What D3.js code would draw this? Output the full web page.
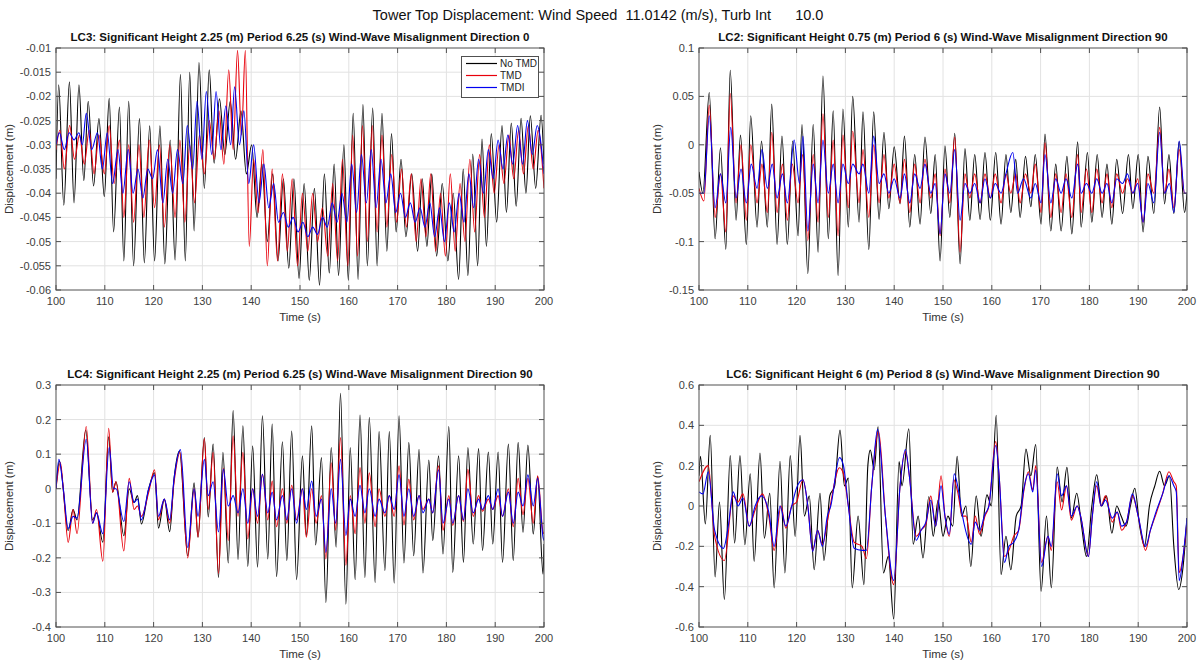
<!DOCTYPE html>
<html lang="en">
<head>
  <meta charset="UTF-8">
  <title>Tower Top Displacement</title>
  <script src="https://cdn.jsdelivr.net/npm/d3@7"></script>
  <style>
    body { margin: 0; background: #fff; }
    svg { font-family: "Liberation Sans", Arial, sans-serif; }
    .grid line { stroke: #e2e2e2; stroke-width: 1; }
    .box { fill: none; stroke: #505050; stroke-width: 1; }
    .tick-label { fill: #404040; font-size: 11px; }
    .trace { fill: none; stroke-width: 1.1; }
  </style>
</head>
<body>
<svg width="1198" height="664"></svg>
<script>
const xTicks = [100, 110, 120, 130, 140, 150, 160, 170, 180, 190, 200];
const seriesNames = ['No TMD', 'TMD', 'TMDI'];
const seriesColors = ['#000000', '#e8000b', '#0000f0'];

const mainTitle = 'Tower Top Displacement: Wind Speed  11.0142 (m/s), Turb Int      10.0';

// LC3
const lc3Title = 'LC3: Significant Height 2.25 (m) Period 6.25 (s) Wind-Wave Misalignment Direction 0';
const lc3Ticks = [-0.06, -0.055, -0.05, -0.045, -0.04, -0.035, -0.03, -0.025, -0.02, -0.015, -0.01];
const lc3NoTmd = [[100,-0.037],[100.55,-0.0176],[101.6,-0.0425],[102.75,-0.017],[103.7,-0.042],[104.7,-0.0176],[105.7,-0.0374],[106.6,-0.021],[107.7,-0.0385],[108.8,-0.0246],[109.9,-0.0407],[110.9,-0.0204],[111.8,-0.048],[113.0,-0.0222],[113.9,-0.054],[114.9,-0.021],[115.9,-0.055],[117.1,-0.0246],[118.1,-0.0544],[119.2,-0.0261],[120.2,-0.054],[121.3,-0.0261],[122.3,-0.0546],[123.4,-0.029],[124.4,-0.0538],[125.5,-0.0155],[126.5,-0.054],[127.4,-0.015],[128.3,-0.0478],[129.3,-0.013],[130.4,-0.039],[131.4,-0.0145],[132.4,-0.0338],[133.5,-0.0205],[134.6,-0.032],[135.7,-0.021],[136.8,-0.033],[137.9,-0.023],[139.0,-0.036],[140.1,-0.03],[141.2,-0.045],[142.2,-0.034],[143.3,-0.05],[144.4,-0.036],[145.5,-0.054],[146.6,-0.037],[147.7,-0.0555],[148.75,-0.037],[149.8,-0.0576],[150.85,-0.038],[151.9,-0.058],[152.95,-0.039],[154.0,-0.059],[155.0,-0.036],[156.0,-0.0565],[157.0,-0.034],[157.9,-0.057],[159.0,-0.03],[159.9,-0.058],[160.9,-0.0235],[161.9,-0.0578],[162.9,-0.0217],[163.8,-0.055],[164.9,-0.0224],[165.8,-0.055],[166.8,-0.0235],[167.8,-0.052],[168.75,-0.0277],[169.7,-0.048],[170.7,-0.033],[171.7,-0.049],[172.9,-0.036],[174.1,-0.052],[175.05,-0.037],[176.0,-0.051],[177.0,-0.036],[178.0,-0.053],[179.15,-0.038],[180.3,-0.054],[181.4,-0.04],[182.5,-0.0578],[183.45,-0.035],[184.4,-0.057],[185.4,-0.0319],[186.4,-0.055],[187.3,-0.0288],[188.2,-0.051],[189.2,-0.0277],[190.3,-0.046],[191.4,-0.026],[192.3,-0.044],[193.3,-0.0255],[194.3,-0.0427],[195.3,-0.0245],[196.3,-0.04],[197.2,-0.024],[198.3,-0.039],[199.4,-0.0239],[200,-0.034]];
const lc3Tmd = [[100,-0.031],[100.8,-0.027],[101.7,-0.035],[102.8,-0.026],[103.8,-0.033],[104.8,-0.028],[105.8,-0.034],[106.8,-0.027],[107.8,-0.036],[108.8,-0.028],[109.9,-0.036],[110.9,-0.026],[111.9,-0.038],[113.0,-0.029],[113.9,-0.045],[114.9,-0.03],[115.9,-0.046],[117.0,-0.03],[118.0,-0.045],[119.1,-0.029],[120.2,-0.043],[121.2,-0.03],[122.2,-0.047],[123.3,-0.03],[124.4,-0.045],[125.4,-0.029],[126.4,-0.046],[127.4,-0.03],[128.4,-0.042],[129.4,-0.028],[130.4,-0.036],[131.4,-0.025],[132.4,-0.033],[133.4,-0.023],[134.4,-0.034],[135.4,-0.0145],[136.3,-0.031],[137.2,-0.0105],[138.0,-0.028],[138.8,-0.0105],[139.6,-0.051],[140.5,-0.033],[141.4,-0.044],[142.4,-0.031],[143.3,-0.055],[144.3,-0.035],[145.4,-0.054],[146.4,-0.036],[147.4,-0.052],[148.4,-0.037],[149.5,-0.055],[150.5,-0.04],[151.6,-0.052],[152.6,-0.04],[153.6,-0.05],[154.6,-0.043],[155.7,-0.053],[156.7,-0.038],[157.7,-0.054],[158.7,-0.033],[159.8,-0.055],[160.8,-0.028],[161.8,-0.053],[162.8,-0.026],[163.8,-0.05],[164.8,-0.026],[165.8,-0.048],[166.8,-0.028],[167.8,-0.047],[168.8,-0.032],[169.8,-0.046],[170.8,-0.035],[171.8,-0.047],[172.8,-0.036],[173.8,-0.05],[174.8,-0.037],[175.8,-0.049],[176.8,-0.036],[177.8,-0.052],[178.8,-0.04],[179.8,-0.053],[180.8,-0.036],[181.8,-0.052],[182.8,-0.038],[183.8,-0.05],[184.8,-0.033],[185.8,-0.048],[186.8,-0.032],[187.8,-0.045],[188.8,-0.03],[189.8,-0.04],[190.8,-0.03],[191.8,-0.038],[192.8,-0.028],[193.8,-0.037],[194.8,-0.027],[195.8,-0.036],[196.8,-0.026],[197.8,-0.035],[198.8,-0.027],[200,-0.039]];
const lc3Tmdi = [[100,-0.03],[100.7,-0.0275],[101.7,-0.031],[102.7,-0.0275],[103.7,-0.029],[104.7,-0.0275],[105.4,-0.03],[106.2,-0.0235],[107.3,-0.031],[108.5,-0.0275],[109.5,-0.035],[110.5,-0.0275],[111.6,-0.038],[112.7,-0.031],[113.7,-0.04],[114.8,-0.031],[115.8,-0.04],[116.8,-0.035],[117.8,-0.041],[118.8,-0.035],[119.8,-0.037],[120.8,-0.031],[121.9,-0.042],[122.9,-0.033],[123.9,-0.04],[124.9,-0.031],[126.0,-0.038],[126.9,-0.026],[128.0,-0.035],[128.9,-0.021],[129.9,-0.033],[130.8,-0.019],[131.9,-0.032],[132.8,-0.019],[133.8,-0.031],[134.8,-0.022],[135.8,-0.03],[136.6,-0.018],[137.6,-0.03],[138.5,-0.023],[139.5,-0.038],[140.5,-0.03],[141.6,-0.042],[142.6,-0.034],[143.6,-0.043],[144.6,-0.038],[145.6,-0.046],[146.6,-0.044],[147.6,-0.047],[148.6,-0.045],[149.6,-0.048],[150.6,-0.046],[151.6,-0.049],[152.6,-0.047],[153.6,-0.0485],[154.6,-0.045],[155.6,-0.047],[156.6,-0.042],[157.6,-0.046],[158.6,-0.04],[159.6,-0.046],[160.6,-0.034],[161.6,-0.044],[162.6,-0.032],[163.6,-0.042],[164.6,-0.031],[165.6,-0.043],[166.6,-0.033],[167.6,-0.042],[168.6,-0.036],[169.6,-0.044],[170.6,-0.04],[171.6,-0.045],[172.6,-0.042],[173.6,-0.046],[174.6,-0.043],[175.6,-0.047],[176.6,-0.042],[177.6,-0.049],[178.6,-0.043],[179.6,-0.05],[180.6,-0.042],[181.6,-0.048],[182.6,-0.04],[183.6,-0.046],[184.6,-0.036],[185.6,-0.043],[186.6,-0.033],[187.6,-0.04],[188.6,-0.031],[189.6,-0.037],[190.6,-0.029],[191.6,-0.035],[192.6,-0.028],[193.6,-0.034],[194.6,-0.026],[195.6,-0.034],[196.6,-0.025],[197.6,-0.032],[198.6,-0.026],[200,-0.036]];

// LC2
const lc2Title = 'LC2: Significant Height 0.75 (m) Period 6 (s) Wind-Wave Misalignment Direction 90';
const lc2Ticks = [-0.15, -0.1, -0.05, 0, 0.05, 0.1];
const lc2NoTmd = [[100,-0.028],[100.8,-0.05],[102.1,0.054],[103.3,-0.097],[104.4,-0.003],[105.5,-0.108],[106.4,0.077],[107.6,-0.078],[108.5,0.01],[109.7,-0.103],[110.6,0.03],[111.9,-0.085],[112.8,0.004],[114.0,-0.085],[114.9,0.042],[116.0,-0.103],[117.0,0.009],[118.1,-0.103],[119.2,0.004],[120.3,-0.094],[121.1,0.021],[122.3,-0.133],[123.4,0.021],[124.4,-0.111],[125.4,0.071],[126.5,-0.097],[127.5,0.035],[128.5,-0.135],[129.5,0.037],[130.6,-0.085],[131.5,0.05],[132.8,-0.08],[133.6,0.034],[134.8,-0.108],[135.8,0.034],[136.9,-0.077],[137.9,0.013],[138.9,-0.066],[140.0,-0.002],[141.2,-0.061],[142.1,0.009],[143.2,-0.085],[144.2,-0.01],[145.3,-0.082],[146.3,0.008],[147.5,-0.071],[148.4,-0.01],[149.4,-0.12],[150.4,-0.001],[151.4,-0.075],[152.4,0.012],[153.5,-0.123],[154.5,-0.004],[155.5,-0.078],[156.5,-0.01],[157.6,-0.077],[158.6,-0.008],[159.7,-0.078],[160.8,-0.008],[161.9,-0.082],[162.9,-0.01],[163.9,-0.07],[164.9,-0.015],[165.8,-0.075],[166.9,-0.012],[168.0,-0.064],[168.9,-0.01],[170.1,-0.082],[170.9,0.011],[172.1,-0.089],[173.1,-0.02],[174.2,-0.089],[175.4,-0.012],[176.4,-0.092],[177.6,0.003],[178.3,-0.085],[179.6,-0.008],[180.5,-0.08],[181.6,-0.01],[182.6,-0.075],[183.6,-0.02],[184.6,-0.082],[185.6,-0.015],[186.8,-0.071],[188.0,-0.01],[188.9,-0.066],[190.0,-0.01],[191.0,-0.09],[192.0,-0.012],[193.2,-0.071],[194.4,0.039],[195.4,-0.061],[196.3,-0.01],[197.3,-0.071],[198.4,0.003],[199.5,-0.07],[200,-0.05]];
const lc2Tmd = [[100,-0.045],[101.0,-0.058],[102.1,0.041],[103.3,-0.075],[104.4,-0.03],[105.5,-0.09],[106.4,0.053],[107.6,-0.06],[108.6,0.0],[109.7,-0.078],[110.6,0.0],[111.9,-0.06],[112.9,-0.02],[114.0,-0.07],[114.9,0.013],[116.0,-0.07],[117.1,-0.02],[118.1,-0.078],[119.1,-0.02],[120.3,-0.06],[121.2,-0.01],[122.3,-0.099],[123.4,-0.01],[124.4,-0.08],[125.4,0.032],[126.5,-0.075],[127.5,0.005],[128.5,-0.094],[129.5,0.01],[130.6,-0.065],[131.5,0.014],[132.8,-0.06],[133.6,-0.005],[134.8,-0.075],[135.8,0.0],[136.9,-0.06],[137.9,-0.01],[138.9,-0.055],[140.0,-0.02],[141.2,-0.06],[142.1,-0.015],[143.2,-0.07],[144.2,-0.02],[145.3,-0.06],[146.3,-0.015],[147.5,-0.055],[148.4,-0.03],[149.4,-0.094],[150.4,-0.025],[151.4,-0.06],[152.4,0.008],[153.5,-0.111],[154.5,-0.03],[155.5,-0.055],[156.5,-0.03],[157.6,-0.06],[158.6,-0.03],[159.7,-0.055],[160.7,-0.03],[161.9,-0.06],[162.9,-0.03],[163.9,-0.05],[164.9,-0.03],[165.8,-0.06],[166.9,-0.03],[168.0,-0.05],[168.9,-0.02],[170.1,-0.07],[170.9,0.002],[172.1,-0.075],[173.1,-0.03],[174.2,-0.07],[175.2,-0.03],[176.4,-0.075],[177.6,-0.01],[178.3,-0.07],[179.4,-0.025],[180.5,-0.07],[181.5,-0.025],[182.6,-0.06],[183.6,-0.03],[184.6,-0.065],[185.6,-0.03],[186.8,-0.05],[187.8,-0.035],[188.9,-0.05],[189.9,-0.035],[191.0,-0.08],[192.0,-0.03],[193.2,-0.05],[194.4,0.018],[195.4,-0.05],[196.3,-0.025],[197.3,-0.065],[198.4,-0.005],[199.5,-0.05],[200,-0.05]];
const lc2Tmdi = [[100,-0.05],[101.0,-0.05],[102.1,0.03],[103.3,-0.065],[104.4,-0.03],[105.5,-0.06],[106.5,0.018],[107.6,-0.055],[108.6,-0.025],[109.7,-0.06],[110.7,-0.02],[111.9,-0.045],[112.9,-0.005],[114.0,-0.045],[115.0,-0.02],[116.0,-0.055],[117.1,-0.03],[118.1,-0.06],[119.5,0.005],[120.6,-0.04],[121.3,0.009],[122.3,-0.089],[123.4,-0.02],[124.4,-0.06],[125.4,0.005],[126.5,-0.05],[127.5,-0.02],[128.5,-0.06],[129.5,-0.02],[130.6,-0.04],[131.5,-0.02],[132.8,-0.03],[133.6,-0.02],[134.8,-0.05],[135.8,0.009],[136.9,-0.04],[137.9,-0.03],[138.9,-0.05],[140.0,-0.035],[141.2,-0.055],[142.1,-0.03],[143.2,-0.06],[144.2,-0.03],[145.3,-0.045],[146.3,-0.02],[147.5,-0.05],[148.4,-0.04],[149.4,-0.092],[150.4,-0.03],[151.4,-0.05],[152.4,-0.005],[153.5,-0.078],[154.5,-0.04],[155.5,-0.05],[156.5,-0.04],[157.6,-0.06],[158.6,-0.035],[159.7,-0.055],[160.7,-0.04],[161.9,-0.05],[162.9,-0.03],[164.3,-0.008],[165.3,-0.05],[166.5,-0.035],[168.0,-0.055],[168.9,-0.04],[170.1,-0.06],[170.9,-0.01],[172.1,-0.06],[173.1,-0.035],[174.2,-0.05],[175.2,-0.035],[176.4,-0.055],[177.6,-0.02],[178.3,-0.05],[179.4,-0.04],[180.5,-0.05],[181.5,-0.035],[182.6,-0.05],[183.6,-0.04],[184.6,-0.06],[185.6,-0.035],[186.8,-0.04],[187.8,-0.03],[188.9,-0.05],[189.9,-0.04],[191.0,-0.08],[192.0,-0.04],[193.2,-0.06],[194.4,0.013],[195.4,-0.05],[196.4,-0.04],[197.3,-0.07],[198.4,0.004],[199.5,-0.05],[200,-0.05]];

// LC4
const lc4Title = 'LC4: Significant Height 2.25 (m) Period 6.25 (s) Wind-Wave Misalignment Direction 90';
const lc4Ticks = [-0.4, -0.3, -0.2, -0.1, 0, 0.1, 0.2, 0.3];
const lc4NoTmd = [[100,0.0],[100.7,0.08],[102.5,-0.121],[103.5,-0.06],[104.3,-0.09],[106.1,0.17],[107.5,-0.09],[108.3,-0.07],[109.6,-0.155],[110.8,0.15],[111.6,-0.01],[112.3,0.02],[113.9,-0.136],[115.0,0.0],[116.0,-0.04],[116.7,-0.02],[117.5,-0.102],[119.0,0.0],[120.2,0.046],[121.0,-0.114],[122.2,-0.03],[123.3,-0.124],[124.2,0.03],[125.3,0.109],[127.0,-0.194],[128.3,0.017],[129.1,-0.14],[130.4,0.148],[131.2,-0.082],[132.2,0.129],[133.3,-0.257],[134.2,0.105],[135.3,-0.215],[136.3,0.226],[137.3,-0.205],[138.3,0.182],[139.3,-0.225],[140.3,0.124],[141.3,-0.227],[142.3,0.211],[143.4,-0.203],[144.3,0.187],[145.2,-0.254],[146.4,0.136],[147.3,-0.208],[148.3,0.167],[149.3,-0.263],[150.5,0.095],[151.3,-0.136],[152.4,0.182],[153.2,-0.163],[154.4,0.09],[155.3,-0.329],[156.4,0.119],[157.4,-0.169],[158.3,0.276],[159.4,-0.334],[160.3,0.119],[161.3,-0.263],[162.3,0.213],[163.3,-0.257],[164.2,0.206],[165.4,-0.271],[166.2,0.165],[167.4,-0.237],[168.3,0.165],[169.3,-0.273],[170.3,0.211],[171.3,-0.215],[172.3,0.134],[173.3,-0.194],[174.4,0.114],[175.2,-0.244],[176.4,0.083],[177.2,-0.15],[178.4,0.095],[179.3,-0.189],[180.5,0.18],[181.3,-0.242],[182.5,0.095],[183.5,-0.213],[184.4,0.119],[185.5,-0.16],[186.6,0.116],[187.4,-0.179],[188.6,0.106],[189.5,-0.16],[190.6,0.106],[191.5,-0.213],[192.7,0.129],[193.7,-0.208],[194.7,0.134],[195.7,-0.126],[196.7,0.126],[197.8,-0.131],[198.7,0.035],[199.8,-0.247],[200,-0.16]];
const lc4Tmd = [[100,0.0],[100.9,0.075],[101.5,0.0],[102.5,-0.155],[103.5,-0.06],[104.3,-0.13],[106.2,0.18],[107.5,-0.1],[108.3,-0.06],[109.6,-0.21],[110.8,0.175],[111.6,-0.01],[112.3,0.02],[113.9,-0.18],[115.0,0.03],[116.0,-0.06],[116.7,-0.05],[117.5,-0.08],[119.0,-0.01],[120.2,0.055],[121.0,-0.09],[122.2,-0.03],[123.3,-0.1],[124.2,0.02],[125.4,0.105],[127.0,-0.2],[128.3,0.0],[129.1,-0.14],[130.4,0.145],[131.2,-0.06],[132.2,0.105],[133.3,-0.245],[134.3,0.06],[135.3,-0.15],[136.3,0.153],[137.3,-0.08],[138.3,0.105],[139.3,-0.145],[140.3,0.0],[141.3,-0.1],[142.3,0.042],[143.4,-0.09],[144.3,0.022],[145.2,-0.11],[146.4,0.0],[147.3,-0.1],[148.3,0.01],[149.3,-0.09],[150.5,0.0],[151.3,-0.14],[152.4,0.0],[153.3,-0.1],[154.4,-0.02],[155.3,-0.203],[156.4,0.075],[157.3,-0.12],[158.3,0.148],[159.4,-0.221],[160.3,-0.02],[161.3,-0.13],[162.3,0.061],[163.3,-0.1],[164.2,0.046],[165.4,-0.11],[166.2,0.0],[167.4,-0.08],[168.3,-0.02],[169.3,-0.08],[170.3,0.066],[171.3,-0.105],[172.3,0.027],[173.3,-0.09],[174.4,-0.02],[175.2,-0.06],[176.4,-0.03],[177.2,-0.07],[178.4,0.066],[179.3,-0.12],[180.5,-0.02],[181.3,-0.106],[182.5,-0.02],[183.5,-0.095],[184.4,0.056],[185.5,-0.08],[186.6,-0.02],[187.4,-0.065],[188.6,-0.03],[189.5,-0.06],[190.6,-0.02],[191.5,-0.08],[192.7,0.0],[193.7,-0.11],[194.7,0.03],[195.7,-0.075],[196.7,0.03],[197.8,-0.1],[198.7,0.037],[199.8,-0.126],[200,-0.13]];
const lc4Tmdi = [[100,0.0],[100.6,0.085],[101.5,0.0],[102.5,-0.115],[103.5,-0.08],[104.3,-0.085],[106.2,0.143],[107.5,-0.1],[108.3,-0.07],[109.6,-0.13],[110.9,0.12],[111.8,0.0],[112.3,0.0],[113.9,-0.095],[115.0,0.02],[116.0,-0.04],[116.7,-0.03],[117.5,-0.09],[119.0,0.0],[120.2,0.04],[121.0,-0.08],[122.2,-0.03],[123.3,-0.09],[124.2,0.03],[125.5,0.113],[127.0,-0.17],[128.3,0.0],[129.1,-0.08],[130.4,0.085],[131.2,-0.02],[132.2,0.02],[133.3,-0.125],[134.3,0.056],[135.3,-0.05],[136.3,-0.02],[137.3,-0.07],[138.3,0.0],[139.3,-0.1],[140.3,0.0],[141.3,-0.08],[142.3,0.042],[143.4,-0.07],[144.3,-0.01],[145.2,-0.09],[146.4,-0.02],[147.3,-0.09],[148.3,0.0],[149.3,-0.1],[150.5,0.0],[151.3,-0.06],[152.4,0.022],[153.3,-0.08],[154.4,-0.03],[155.3,-0.184],[156.4,0.0],[157.3,-0.1],[158.3,0.085],[159.4,-0.135],[160.3,-0.03],[161.3,-0.08],[162.3,0.01],[163.3,-0.07],[164.2,0.0],[165.4,-0.08],[166.2,-0.03],[167.4,-0.07],[168.3,-0.02],[169.3,-0.06],[170.3,0.04],[171.3,-0.08],[172.3,0.0],[173.3,-0.08],[174.4,-0.02],[175.2,-0.07],[176.4,-0.03],[177.2,-0.07],[178.4,0.055],[179.3,-0.1],[180.5,-0.03],[181.3,-0.1],[182.5,-0.02],[183.5,-0.09],[184.4,0.0],[185.5,-0.07],[186.6,-0.03],[187.4,-0.06],[188.6,-0.02],[189.5,-0.06],[190.6,0.0],[191.5,-0.08],[192.7,-0.01],[193.7,-0.1],[194.7,-0.01],[195.7,-0.05],[196.7,0.04],[197.8,-0.05],[198.7,0.03],[199.8,-0.14],[200,-0.15]];

// LC6
const lc6Title = 'LC6: Significant Height 6 (m) Period 8 (s) Wind-Wave Misalignment Direction 90';
const lc6Ticks = [-0.6, -0.4, -0.2, 0, 0.2, 0.4, 0.6];
const lc6NoTmd = [[100,0.15],[100.3,0.247],[101.3,-0.089],[102.3,0.35],[103.3,-0.352],[104.2,0.02],[105.2,-0.464],[106.4,0.25],[107.3,-0.184],[108.4,0.25],[109.4,-0.192],[110.5,0.16],[111.3,-0.275],[112.5,0.263],[113.4,-0.16],[114.5,0.063],[115.4,-0.406],[116.6,0.222],[117.6,-0.332],[118.7,0.25],[119.7,-0.151],[120.7,0.35],[121.6,-0.05],[122.6,0.05],[123.6,-0.316],[124.8,0.063],[125.6,-0.27],[126.8,0.05],[127.8,0.1],[128.9,0.377],[129.8,0.1],[130.6,0.138],[131.4,-0.406],[132.6,-0.05],[133.8,-0.39],[134.6,0.2],[135.1,0.277],[135.9,0.18],[136.7,0.393],[137.8,-0.332],[138.8,-0.25],[139.9,-0.56],[141.0,0.22],[141.6,0.1],[143.0,0.383],[143.9,-0.19],[144.9,-0.05],[145.9,-0.258],[147.1,0.047],[148.0,-0.15],[149.0,0.03],[150.0,-0.15],[151.0,-0.05],[152.0,-0.1],[152.9,0.247],[153.8,-0.05],[154.7,0.0],[155.7,-0.3],[156.8,0.05],[157.8,-0.15],[159.0,0.055],[159.9,0.0],[160.9,0.45],[161.9,-0.34],[162.9,-0.15],[163.9,-0.316],[165.0,-0.05],[166.0,0.0],[167.0,0.283],[168.0,0.15],[169.0,0.305],[170.1,-0.423],[171.2,-0.05],[172.2,-0.406],[173.4,0.193],[174.4,0.02],[175.4,0.192],[176.3,-0.06],[177.4,0.063],[178.4,-0.1],[179.4,-0.25],[180.5,0.0],[181.5,0.155],[182.5,0.0],[183.5,0.05],[184.6,-0.135],[185.6,0.0],[186.5,-0.05],[187.5,-0.1],[188.4,0.0],[189.3,0.088],[190.3,-0.1],[191.3,-0.2],[192.3,0.0],[193.4,0.1],[194.4,0.172],[195.4,0.1],[196.4,0.15],[197.3,-0.2],[198.3,-0.414],[199.2,-0.3],[200,-0.06]];
const lc6Tmd = [[100,0.12],[101.9,0.2],[103.2,-0.15],[105.2,-0.27],[107.0,0.05],[108.0,0.02],[109.0,0.06],[110.3,-0.1],[111.5,-0.02],[113.0,0.06],[114.3,-0.05],[115.4,-0.22],[116.8,0.0],[117.8,-0.11],[119.0,0.0],[120.0,0.02],[121.3,0.13],[122.3,0.0],[123.3,-0.22],[124.3,-0.12],[125.3,-0.19],[126.5,-0.05],[128.8,0.19],[129.6,0.16],[130.6,0.0],[131.8,-0.18],[133.4,-0.2],[134.3,-0.26],[135.4,0.1],[136.8,0.37],[138.2,-0.05],[139.9,-0.39],[141.2,0.1],[142.3,0.27],[143.1,0.15],[144.5,-0.15],[145.5,-0.12],[146.5,-0.09],[147.5,0.05],[148.5,-0.1],[149.6,0.15],[150.4,-0.05],[151.3,-0.15],[152.2,0.13],[153.0,0.07],[154.0,-0.05],[154.7,-0.05],[155.8,-0.18],[156.6,-0.05],[157.5,-0.14],[158.6,-0.05],[159.4,0.0],[160.8,0.32],[161.5,0.15],[162.6,-0.25],[163.5,-0.22],[164.5,-0.15],[165.5,-0.12],[166.6,0.08],[167.5,0.17],[168.4,0.08],[169.0,0.2],[170.2,-0.28],[171.5,-0.15],[172.2,-0.22],[173.4,0.12],[174.3,-0.02],[175.3,0.1],[176.3,-0.07],[177.5,0.0],[178.2,-0.05],[179.8,-0.25],[180.6,-0.05],[181.5,0.1],[182.4,0.0],[183.3,0.05],[184.7,-0.08],[185.7,-0.03],[186.6,-0.12],[187.6,-0.08],[188.8,0.05],[190.0,-0.05],[191.5,-0.22],[192.5,-0.12],[193.5,-0.05],[195.0,0.06],[196.3,0.17],[197.3,0.12],[197.8,0.1],[198.4,-0.33],[199.2,-0.25],[200,-0.08]];
const lc6Tmdi = [[100,0.07],[100.8,0.06],[101.9,0.17],[103.2,-0.12],[105.0,-0.21],[106.0,-0.1],[107.0,0.07],[108.0,0.0],[109.0,0.04],[110.3,-0.1],[111.5,0.0],[112.8,0.05],[114.3,-0.03],[115.4,-0.2],[116.6,0.0],[117.8,-0.1],[119.0,0.0],[120.0,0.09],[121.3,0.13],[122.3,0.0],[123.3,-0.225],[124.3,-0.12],[125.3,-0.2],[126.3,-0.05],[127.0,0.0],[128.8,0.24],[129.6,0.2],[130.6,0.0],[131.8,-0.21],[133.4,-0.22],[134.3,-0.22],[135.4,0.1],[136.6,0.38],[138.2,-0.05],[139.9,-0.37],[141.2,0.1],[142.3,0.28],[143.1,0.15],[144.5,-0.17],[145.5,-0.12],[146.5,-0.08],[147.5,0.03],[148.5,-0.1],[149.6,0.1],[150.4,-0.05],[151.3,-0.14],[152.3,0.16],[153.0,0.1],[154.0,-0.05],[155.8,-0.19],[156.6,-0.08],[157.5,-0.12],[158.6,-0.04],[159.4,0.0],[160.8,0.3],[161.5,0.15],[162.6,-0.28],[163.5,-0.2],[164.5,-0.18],[165.5,-0.12],[166.6,0.09],[167.5,0.16],[168.4,0.07],[169.0,0.18],[170.2,-0.3],[171.5,-0.15],[172.2,-0.2],[173.4,0.16],[174.3,0.05],[175.3,0.1],[176.3,-0.05],[177.5,0.0],[178.2,-0.05],[179.8,-0.25],[180.6,-0.05],[181.5,0.12],[182.4,0.0],[183.3,0.03],[184.7,-0.06],[185.7,-0.03],[186.6,-0.1],[187.6,-0.08],[188.8,0.06],[190.0,-0.05],[191.5,-0.2],[192.5,-0.12],[193.5,-0.04],[195.0,0.06],[196.3,0.15],[197.3,0.1],[197.8,0.07],[198.4,-0.37],[199.2,-0.25],[200,-0.06]];

// ---- layout ----
const pw = 488, ph = 242;
const panels = [
  { left: 56,  top: 48,  title: lc3Title, ticks: lc3Ticks, series: [lc3NoTmd, lc3Tmd, lc3Tmdi], ylab: 43, legend: true },
  { left: 699, top: 48,  title: lc2Title, ticks: lc2Ticks, series: [lc2NoTmd, lc2Tmd, lc2Tmdi], ylab: 38 },
  { left: 56,  top: 385, title: lc4Title, ticks: lc4Ticks, series: [lc4NoTmd, lc4Tmd, lc4Tmdi], ylab: 43 },
  { left: 699, top: 385, title: lc6Title, ticks: lc6Ticks, series: [lc6NoTmd, lc6Tmd, lc6Tmdi], ylab: 38 }
];

const svg = d3.select('svg');
const fmt = d => String(+d.toFixed(3));

svg.append('text')
  .attr('x', 598).attr('y', 20)
  .attr('text-anchor', 'middle')
  .attr('font-size', 14.5)
  .attr('fill', '#111')
  .style('white-space', 'pre')
  .text(mainTitle);

panels.forEach((p, i) => {
  const x = d3.scaleLinear().domain([100, 200]).range([0, pw]);
  const y = d3.scaleLinear().domain(d3.extent(p.ticks)).range([ph, 0]);
  const g = svg.append('g').attr('transform', `translate(${p.left},${p.top})`);

  g.append('clipPath').attr('id', 'clip' + i)
    .append('rect').attr('width', pw).attr('height', ph);

  // grid
  const grid = g.append('g').attr('class', 'grid');
  grid.selectAll('.gx').data(xTicks.slice(1, -1)).join('line')
    .attr('x1', d => x(d)).attr('x2', d => x(d)).attr('y1', 0).attr('y2', ph);
  grid.selectAll('.gy').data(p.ticks.slice(1, -1)).join('line')
    .attr('y1', d => y(d)).attr('y2', d => y(d)).attr('x1', 0).attr('x2', pw);

  // traces
  const line = d3.line().x(d => x(d[0])).y(d => y(d[1])).curve(d3.curveMonotoneX);
  g.append('g').attr('clip-path', `url(#clip${i})`)
    .selectAll('path').data(p.series).join('path')
    .attr('class', 'trace')
    .attr('stroke', (d, k) => seriesColors[k])
    .attr('d', line);

  // box and inward ticks on all four sides
  g.append('rect').attr('class', 'box').attr('width', pw).attr('height', ph);
  const tl = 5;
  const tk = g.append('g').attr('stroke', '#505050');
  xTicks.forEach(t => {
    tk.append('line').attr('x1', x(t)).attr('x2', x(t)).attr('y1', ph).attr('y2', ph - tl);
    tk.append('line').attr('x1', x(t)).attr('x2', x(t)).attr('y1', 0).attr('y2', tl);
  });
  p.ticks.forEach(t => {
    tk.append('line').attr('y1', y(t)).attr('y2', y(t)).attr('x1', 0).attr('x2', tl);
    tk.append('line').attr('y1', y(t)).attr('y2', y(t)).attr('x1', pw).attr('x2', pw - tl);
  });

  // tick labels
  g.selectAll('.xl').data(xTicks).join('text')
    .attr('class', 'tick-label')
    .attr('x', d => x(d)).attr('y', ph + 15)
    .attr('text-anchor', 'middle')
    .text(d => d);
  g.selectAll('.yl').data(p.ticks).join('text')
    .attr('class', 'tick-label')
    .attr('x', -5).attr('y', d => y(d) + 4)
    .attr('text-anchor', 'end')
    .text(fmt);

  // labels
  g.append('text')
    .attr('x', pw / 2).attr('y', ph + 31)
    .attr('text-anchor', 'middle').attr('font-size', 11.5).attr('fill', '#333')
    .text('Time (s)');
  g.append('text')
    .attr('transform', `translate(${-p.ylab},${ph / 2}) rotate(-90)`)
    .attr('text-anchor', 'middle').attr('font-size', 11.5).attr('fill', '#333')
    .text('Displacement (m)');
  g.append('text')
    .attr('x', pw / 2).attr('y', -7)
    .attr('text-anchor', 'middle').attr('font-size', 11.5)
    .attr('font-weight', 'bold').attr('fill', '#111')
    .text(p.title);

  // legend
  if (p.legend) {
    const lg = g.append('g').attr('transform', `translate(${pw - 83},8)`);
    lg.append('rect').attr('x', 0.5).attr('y', 0.5).attr('width', 77).attr('height', 41)
      .attr('fill', '#fff').attr('stroke', '#505050');
    seriesNames.forEach((n, k) => {
      const yy = 7.5 + k * 12;
      lg.append('line').attr('x1', 5).attr('x2', 36).attr('y1', yy).attr('y2', yy)
        .attr('stroke', seriesColors[k]).attr('stroke-width', 1.2);
      lg.append('text').attr('x', 39).attr('y', yy + 3.5)
        .attr('font-size', 10).attr('fill', '#222').text(n);
    });
  }
});
</script>
</body>
</html>
